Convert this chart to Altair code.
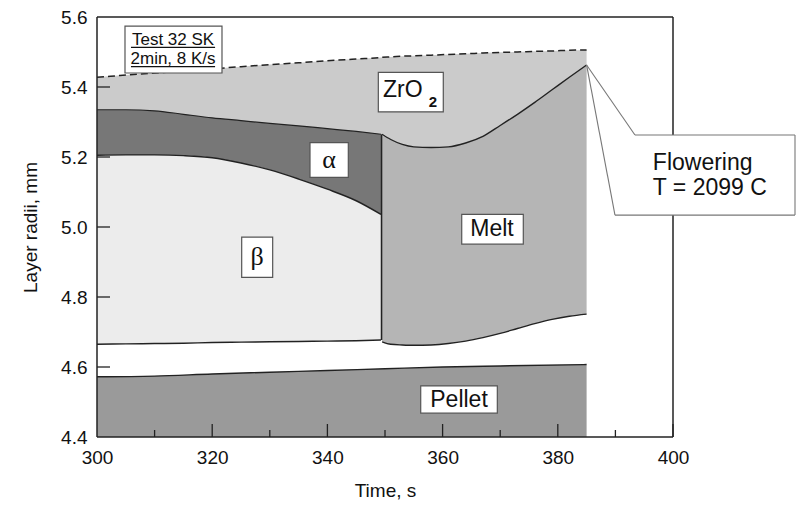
import altair as alt
import pandas as pd

# ---- data ----
T_LEFT = [300, 305, 310, 315, 320, 325, 330, 335, 340, 345, 349.3]
ALPHA_TOP = [5.335, 5.335, 5.332, 5.322, 5.312, 5.304, 5.296, 5.289, 5.281, 5.273, 5.265]
ALPHA_BOT = [5.205, 5.206, 5.206, 5.204, 5.198, 5.183, 5.163, 5.137, 5.108, 5.075, 5.036]
BETA_BOT = [4.665, 4.666, 4.667, 4.668, 4.670, 4.671, 4.672, 4.673, 4.674, 4.675, 4.677]

T_RIGHT = [349.5, 351, 353, 355, 358, 361, 364, 367, 370, 373, 376, 379, 382, 385]
MELT_TOP = [5.265, 5.250, 5.236, 5.229, 5.227, 5.229, 5.240, 5.259, 5.290, 5.322, 5.356, 5.392, 5.428, 5.463]
MELT_BOT = [4.672, 4.665, 4.663, 4.662, 4.663, 4.667, 4.674, 4.684, 4.696, 4.710, 4.724, 4.736, 4.745, 4.751]

T_ALL = T_LEFT + T_RIGHT
ZRO2_OUT = [5.428, 5.434, 5.440, 5.446, 5.452, 5.458, 5.464, 5.469, 5.475, 5.480, 5.484,
            5.485, 5.486, 5.488, 5.489, 5.491, 5.493, 5.495, 5.497, 5.499, 5.500, 5.502, 5.503, 5.505, 5.506]
ZRO2_IN = ALPHA_TOP + MELT_TOP

T_PELLET = [300, 310, 320, 330, 340, 350, 360, 370, 385]
PELLET_TOP = [4.572, 4.574, 4.580, 4.585, 4.590, 4.595, 4.600, 4.603, 4.607]
PELLET_BOT = [4.4] * len(T_PELLET)

X_MAJOR = [320, 340, 360, 380, 400]
X_MINOR = [310, 330, 350, 370, 390]
Y_MAJOR = [4.6, 4.8, 5.0, 5.2, 5.4]
X_LABELS = [300, 320, 340, 360, 380, 400]
Y_LABELS = [4.4, 4.6, 4.8, 5.0, 5.2, 5.4, 5.6]

# label boxes: name, x1, x2, y1, y2
BOX_NAMES = ["test", "zro2", "alpha", "beta", "melt", "pellet"]
BOX_X1 = [304.86, 348.84, 336.98, 325.12, 363.32, 356.20]
BOX_X2 = [321.70, 360.12, 343.63, 330.50, 374.01, 369.50]
BOX_Y1 = [5.440, 5.329, 5.142, 4.856, 4.951, 4.468]
BOX_Y2 = [5.574, 5.442, 5.241, 4.971, 5.036, 4.546]

SANS_TEXT = ["Melt", "Pellet"]
SANS_TX = [368.58, 362.85]
SANS_TY = [4.994, 4.506]
GREEK_TEXT = ["α", "β"]
GREEK_TX = [340.28, 327.78]
GREEK_TY = [5.191, 4.914]
TEST_TEXT = ["Test 32 SK", "2min, 8 K/s"]
TEST_TY = [5.534, 5.480]
TEST_TX = [313.2, 313.2]
UNDER_X1 = [305.9, 305.9]
UNDER_X2 = [320.5, 320.5]
UNDER_Y = [5.513, 5.458]

# callout
CALL_TIP = (385, 5.463)
CALL_A = (393.40, 5.263)
CALL_B = (389.93, 5.034)
CALL_RIGHT = 421.18
CALL_TEXT = ["Flowering", "T = 2099 C"]
CALL_TX = [396.5, 396.5]
CALL_TY = [5.183, 5.111]

FONT = "Liberation Sans"
LINE = "#222222"

xs = alt.Scale(domain=[300, 400], nice=False, zero=False)
ys = alt.Scale(domain=[4.4, 5.6], nice=False, zero=False)
AXIS_STYLE = dict(domain=False, ticks=False, grid=False, labelFlush=False,
                  labelFont=FONT, titleFont=FONT, labelFontSize=19, titleFontSize=19,
                  labelColor="#111111", titleColor="#111111", titleFontWeight="normal")
AX_X = alt.Axis(values=X_LABELS, format="d", labelPadding=11, titlePadding=14, **AXIS_STYLE)
AX_Y = alt.Axis(values=Y_LABELS, format=".1f", labelPadding=10, titlePadding=20, **AXIS_STYLE)


def X(f, **kw):
    return alt.X(f, type="quantitative", scale=xs, axis=AX_X, title="Time, s", **kw)


def Y(f, **kw):
    return alt.Y(f, type="quantitative", scale=ys, axis=AX_Y, title="Layer radii, mm", **kw)


def area(t, lo, hi, color):
    df = pd.DataFrame({"t": t, "lo": lo, "hi": hi})
    return alt.Chart(df).mark_area(color=color, interpolate="monotone", opacity=1).encode(
        x=X("t"), y=Y("lo"), y2="hi")


def line(t, v, dash=None, width=1.4):
    df = pd.DataFrame({"t": t, "v": v})
    kw = dict(color=LINE, strokeWidth=width, interpolate="monotone")
    if dash:
        kw["strokeDash"] = dash
    return alt.Chart(df).mark_line(**kw).encode(x=X("t"), y=Y("v"))


layers = []
layers.append(area(T_ALL, ZRO2_IN, ZRO2_OUT, "#cbcbcb"))
layers.append(area(T_LEFT, ALPHA_BOT, ALPHA_TOP, "#777777"))
layers.append(area(T_LEFT, BETA_BOT, ALPHA_BOT, "#ececec"))
layers.append(area(T_RIGHT, MELT_BOT, MELT_TOP, "#b5b5b5"))
layers.append(area(T_PELLET, PELLET_BOT, PELLET_TOP, "#9a9a9a"))

layers.append(line(T_ALL, ZRO2_OUT, dash=[7, 4], width=1.5))
layers.append(line(T_LEFT, ALPHA_TOP, width=1.2))
layers.append(line(T_LEFT, ALPHA_BOT))
layers.append(line(T_LEFT, BETA_BOT))
layers.append(line(T_RIGHT, MELT_TOP))
layers.append(line(T_RIGHT, MELT_BOT))
layers.append(line(T_PELLET, PELLET_TOP))

# vertical melt front
vf = pd.DataFrame({"t": [349.4], "lo": [BETA_BOT[-1]], "hi": [ALPHA_TOP[-1]]})
layers.append(alt.Chart(vf).mark_rule(color=LINE, strokeWidth=1.6).encode(x=X("t"), y=Y("lo"), y2="hi"))

# ticks (inward)
layers.append(alt.Chart(pd.DataFrame({"t": X_MAJOR})).mark_rule(color=LINE, strokeWidth=1.3).encode(
    x=X("t"), y=alt.value(420), y2=alt.value(407)))
layers.append(alt.Chart(pd.DataFrame({"t": X_MINOR})).mark_rule(color=LINE, strokeWidth=1.3).encode(
    x=X("t"), y=alt.value(420), y2=alt.value(413)))
layers.append(alt.Chart(pd.DataFrame({"v": Y_MAJOR})).mark_rule(color=LINE, strokeWidth=1.3).encode(
    y=Y("v"), x=alt.value(0), x2=alt.value(13)))

# frame
frame = pd.DataFrame({"x1": [300, 300, 300, 400], "x2": [400, 400, 300, 400],
                      "y1": [4.4, 5.6, 4.4, 4.4], "y2": [4.4, 5.6, 5.6, 5.6]})
layers.append(alt.Chart(frame).mark_rule(color=LINE, strokeWidth=1.5).encode(
    x=X("x1"), x2="x2", y=Y("y1"), y2="y2"))

# label boxes
boxes = pd.DataFrame({"name": BOX_NAMES, "x1": BOX_X1, "x2": BOX_X2, "y1": BOX_Y1, "y2": BOX_Y2})
layers.append(alt.Chart(boxes).mark_rect(fill="white", stroke="#555555", strokeWidth=1.2).encode(
    x=X("x1"), x2="x2", y=Y("y1"), y2="y2"))

layers.append(alt.Chart(pd.DataFrame({"s": SANS_TEXT, "x": SANS_TX, "y": SANS_TY})).mark_text(
    font=FONT, fontSize=23, color="#111111", baseline="middle", align="center").encode(
    x=X("x"), y=Y("y"), text="s:N"))
layers.append(alt.Chart(pd.DataFrame({"s": GREEK_TEXT, "x": GREEK_TX, "y": GREEK_TY})).mark_text(
    font="Liberation Serif", fontSize=26, color="#111111", baseline="middle", align="center").encode(
    x=X("x"), y=Y("y"), text="s:N"))
layers.append(alt.Chart(pd.DataFrame({"s": ["ZrO"], "x": [349.65], "y": [5.391]})).mark_text(
    font=FONT, fontSize=23, color="#111111", baseline="middle", align="left").encode(
    x=X("x"), y=Y("y"), text="s:N"))
layers.append(alt.Chart(pd.DataFrame({"s": ["2"], "x": [358.3], "y": [5.356]})).mark_text(
    font=FONT, fontSize=15, fontWeight="bold", color="#111111", baseline="middle", align="center").encode(
    x=X("x"), y=Y("y"), text="s:N"))
layers.append(alt.Chart(pd.DataFrame({"s": TEST_TEXT, "x": TEST_TX, "y": TEST_TY})).mark_text(
    font=FONT, fontSize=17, color="#111111", baseline="middle", align="center").encode(
    x=X("x"), y=Y("y"), text="s:N"))
layers.append(alt.Chart(pd.DataFrame({"x1": UNDER_X1, "x2": UNDER_X2, "y": UNDER_Y})).mark_rule(
    color="#111111", strokeWidth=1.2).encode(x=X("x1"), x2="x2", y=Y("y")))

# callout
tri = pd.DataFrame({"t": [CALL_TIP[0], CALL_B[0], CALL_A[0]],
                    "lo": [CALL_TIP[1], CALL_B[1], CALL_A[1]],
                    "hi": [CALL_TIP[1], 5.346, CALL_A[1]]})
layers.append(alt.Chart(tri).mark_area(color="white", opacity=1).encode(x=X("t"), y=Y("lo"), y2="hi"))
cbox = pd.DataFrame({"x1": [CALL_B[0]], "x2": [CALL_RIGHT], "y1": [CALL_B[1]], "y2": [CALL_A[1]]})
layers.append(alt.Chart(cbox).mark_rect(fill="white", strokeWidth=0).encode(
    x=X("x1"), x2="x2", y=Y("y1"), y2="y2"))
edges = pd.DataFrame({
    "x1": [CALL_TIP[0], CALL_TIP[0], CALL_A[0], CALL_B[0], CALL_RIGHT],
    "x2": [CALL_A[0], CALL_B[0], CALL_RIGHT, CALL_RIGHT, CALL_RIGHT],
    "y1": [CALL_TIP[1], CALL_TIP[1], CALL_A[1], CALL_B[1], CALL_B[1]],
    "y2": [CALL_A[1], CALL_B[1], CALL_A[1], CALL_B[1], CALL_A[1]]})
layers.append(alt.Chart(edges).mark_rule(color="#777777", strokeWidth=1.1).encode(
    x=X("x1"), x2="x2", y=Y("y1"), y2="y2"))
layers.append(alt.Chart(pd.DataFrame({"s": CALL_TEXT, "x": CALL_TX, "y": CALL_TY})).mark_text(
    font=FONT, fontSize=23, color="#111111", baseline="middle", align="left").encode(
    x=X("x"), y=Y("y"), text="s:N"))

chart = alt.layer(*layers).properties(
    width=576, height=420,
    background="white",
    autosize=alt.AutoSizeParams(type="none"),
    padding={"left": 97, "top": 17, "right": 126, "bottom": 68},
).configure_view(stroke=None)

chart.save("out.html", embed_options={"renderer": "svg", "actions": False})
